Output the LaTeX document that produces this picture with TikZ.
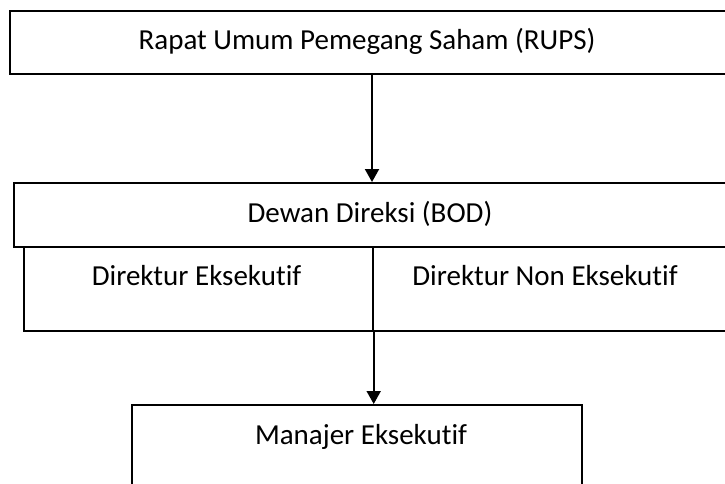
\documentclass[tikz,border=0pt]{standalone}
\usepackage{fontspec}
\setmainfont[Ligatures={NoCommon,NoDiscretionary,NoRare}]{Carlito}
\usetikzlibrary{arrows.meta}
\begin{document}
\begin{tikzpicture}[x=1pt,y=1pt,
  box/.style={draw=black, line width=1.7pt, rectangle, inner sep=0pt, fill=none},
  txt/.style={inner sep=0pt, font=\fontsize{29}{34}\selectfont},
  arr/.style={draw=black, line width=2pt, -{Triangle[width=14pt,length=13pt]}}]
\useasboundingbox (0,0) rectangle (725,-483);
\clip (0,0) rectangle (725,-483);
\fill[white] (0,0) rectangle (725,-483);
% top box
\node[box, minimum width=720pt, minimum height=63pt, anchor=north west] (rups) at (9,-10) {};
\node[txt] (rupst) at (367,-41) {Rapat Umum Pemegang Saham (RUPS)};
% board box
\node[box, minimum width=720pt, minimum height=64pt, anchor=north west] (bod) at (13,-182) {};
\node[txt] (bodt) at (370,-214) {Dewan Direksi (BOD)};
% sub cells
\node[box, minimum width=349pt, minimum height=84pt, anchor=north west] (dexe) at (23,-246) {};
\node[box, minimum width=370pt, minimum height=84pt, anchor=north west] (dnon) at (372,-246) {};
\node[txt] (dexet) at (196.5,-276) {Direktur Eksekutif};
\node[txt] (dnont) at (545,-276) {Direktur Non Eksekutif};
% manager box
\node[box, minimum width=450pt, minimum height=110pt, anchor=north west] (mgr) at (131,-404) {};
\node[txt] (mgrt) at (361,-437) {Manajer Eksekutif};
% arrows
\coordinate (mid) at (372,0);
\draw[arr] (rups.south -| mid) -- (bod.north -| mid);
\draw[arr] (dexe.south east) -- (mgr.north -| dexe.south east);
\end{tikzpicture}
\end{document}
